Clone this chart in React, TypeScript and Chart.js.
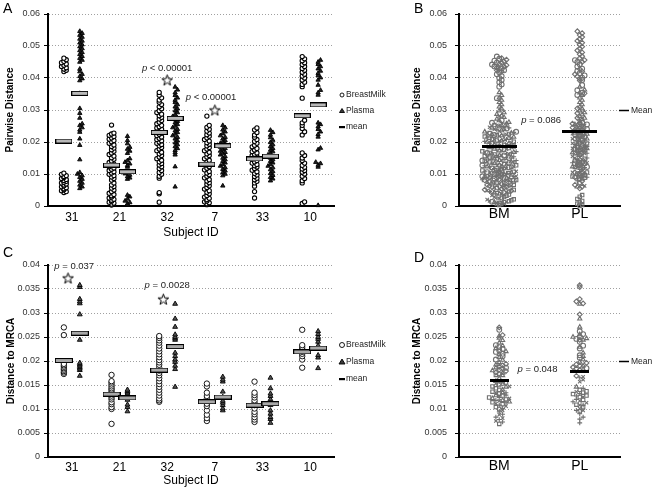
import React, { useEffect, useRef } from "react";
import { Chart, registerables } from "chart.js";

Chart.register(...registerables);

const FONT = "'Liberation Sans', Arial, Helvetica, sans-serif";

// ---------- categories & labels ----------
const subjectIds = ["31", "21", "32", "7", "33", "10"];
const compartmentLabels = ["BM", "PL"];
const legendLabels = ["BreastMilk", "Plasma", "mean"];

// ---------- Panel A: pairwise distance per subject ----------
const pairwiseBM31 = [0.0042, 0.0045, 0.0048, 0.0051, 0.0054, 0.0057, 0.006, 0.0063, 0.0066, 0.0069, 0.0072, 0.0074, 0.0077, 0.008, 0.0083, 0.0086, 0.0089, 0.0092, 0.0095, 0.0099, 0.0103, 0.042, 0.0424, 0.0428, 0.0432, 0.0436, 0.044, 0.0444, 0.0448, 0.0452, 0.0457, 0.0462];
const pairwisePL31 = [0.0055, 0.006, 0.0066, 0.0072, 0.0078, 0.0084, 0.009, 0.0095, 0.01, 0.0105, 0.0145, 0.019, 0.021, 0.0231, 0.0238, 0.0245, 0.0252, 0.0257, 0.0275, 0.029, 0.0305, 0.0352, 0.0392, 0.0398, 0.0405, 0.0412, 0.042, 0.0428, 0.045, 0.0456, 0.0462, 0.0468, 0.0474, 0.048, 0.0486, 0.0492, 0.0498, 0.0504, 0.051, 0.0516, 0.0522, 0.0528, 0.0534, 0.054, 0.0546];
const pairwiseBM21 = [0.0003, 0.0006, 0.0009, 0.0012, 0.0015, 0.0018, 0.0021, 0.0025, 0.0028, 0.0032, 0.0036, 0.004, 0.0045, 0.005, 0.0056, 0.0061, 0.0066, 0.0072, 0.0081, 0.0086, 0.0091, 0.0095, 0.0099, 0.0103, 0.0107, 0.0111, 0.0115, 0.0119, 0.0123, 0.0127, 0.0131, 0.0136, 0.0141, 0.0146, 0.0151, 0.0156, 0.0161, 0.0166, 0.0171, 0.0176, 0.0181, 0.0186, 0.0191, 0.0196, 0.0201, 0.0205, 0.0209, 0.0213, 0.0217, 0.0221, 0.0225, 0.0228, 0.0253];
const pairwisePL21 = [0.0003, 0.0007, 0.0011, 0.0016, 0.0022, 0.0029, 0.0034, 0.0084, 0.0088, 0.0092, 0.0097, 0.0101, 0.0105, 0.0122, 0.0127, 0.0132, 0.0137, 0.0142, 0.0148, 0.0165, 0.0172, 0.0178, 0.0184, 0.0195, 0.0205, 0.0218];
const pairwiseBM32 = [0.0012, 0.0038, 0.0042, 0.0087, 0.0093, 0.0099, 0.0105, 0.0111, 0.0117, 0.0123, 0.0128, 0.0133, 0.0138, 0.0143, 0.0148, 0.0153, 0.0158, 0.0163, 0.0168, 0.0173, 0.0178, 0.0183, 0.0188, 0.0192, 0.0196, 0.02, 0.0204, 0.0208, 0.0212, 0.0216, 0.022, 0.0224, 0.0228, 0.0232, 0.0236, 0.024, 0.0244, 0.0248, 0.0252, 0.0257, 0.0262, 0.0267, 0.0272, 0.0277, 0.0282, 0.0287, 0.0292, 0.0298, 0.0304, 0.031, 0.0317, 0.0324, 0.0331, 0.0338, 0.0346, 0.0355];
const pairwisePL32 = [0.006, 0.0123, 0.016, 0.0167, 0.0174, 0.018, 0.0186, 0.0192, 0.0198, 0.0204, 0.021, 0.0215, 0.022, 0.0225, 0.023, 0.0235, 0.024, 0.0245, 0.025, 0.0255, 0.026, 0.0265, 0.027, 0.0275, 0.028, 0.0286, 0.0292, 0.0298, 0.0304, 0.031, 0.0317, 0.0324, 0.0331, 0.0338, 0.0346, 0.0354, 0.0363, 0.0372];
const pairwiseBM7 = [0.0004, 0.0007, 0.001, 0.0013, 0.0016, 0.002, 0.0024, 0.0028, 0.0033, 0.0038, 0.0043, 0.0048, 0.0053, 0.0058, 0.0063, 0.0068, 0.0073, 0.0078, 0.0083, 0.0088, 0.0093, 0.0098, 0.0103, 0.0108, 0.0113, 0.0118, 0.0123, 0.0128, 0.0133, 0.0138, 0.0143, 0.0148, 0.0153, 0.0158, 0.0163, 0.0168, 0.0173, 0.0178, 0.0183, 0.0188, 0.0193, 0.0198, 0.0203, 0.0208, 0.0213, 0.0218, 0.0223, 0.0228, 0.0234, 0.024, 0.0246, 0.0252, 0.0281];
const pairwisePL7 = [0.0063, 0.0095, 0.01, 0.0105, 0.011, 0.0115, 0.012, 0.0125, 0.013, 0.0135, 0.014, 0.0145, 0.015, 0.0155, 0.016, 0.0164, 0.0168, 0.0172, 0.0176, 0.018, 0.0184, 0.0188, 0.0192, 0.0196, 0.02, 0.0205, 0.021, 0.0215, 0.022, 0.0226, 0.0232, 0.0238, 0.0245, 0.0252];
const pairwiseBM33 = [0.0025, 0.0045, 0.0062, 0.0072, 0.0077, 0.0082, 0.0087, 0.0092, 0.0097, 0.0102, 0.0107, 0.0112, 0.0117, 0.0122, 0.0126, 0.013, 0.0134, 0.0138, 0.0142, 0.0146, 0.015, 0.0154, 0.0158, 0.0162, 0.0166, 0.017, 0.0175, 0.018, 0.0185, 0.019, 0.0196, 0.0202, 0.0208, 0.0215, 0.0222, 0.023, 0.0238, 0.0244];
const pairwisePL33 = [0.0079, 0.0085, 0.009, 0.0096, 0.0102, 0.0108, 0.0114, 0.012, 0.0125, 0.013, 0.0135, 0.014, 0.0145, 0.015, 0.0155, 0.016, 0.0165, 0.017, 0.0175, 0.018, 0.0186, 0.0192, 0.0199, 0.0206, 0.0214, 0.0222, 0.023, 0.0237];
const pairwiseBM10 = [0.0008, 0.0013, 0.0072, 0.0079, 0.0086, 0.0093, 0.01, 0.0106, 0.0111, 0.0116, 0.0121, 0.0127, 0.0134, 0.0142, 0.015, 0.0158, 0.0166, 0.0222, 0.0232, 0.0242, 0.0252, 0.026, 0.0268, 0.0337, 0.0373, 0.038, 0.0387, 0.0394, 0.04, 0.0406, 0.0412, 0.0418, 0.0424, 0.043, 0.0436, 0.0442, 0.0448, 0.0454, 0.046, 0.0467];
const pairwisePL10 = [0.0002, 0.0122, 0.0128, 0.0133, 0.0137, 0.0176, 0.0181, 0.0216, 0.0224, 0.0232, 0.024, 0.0248, 0.0255, 0.026, 0.0347, 0.0354, 0.0362, 0.0378, 0.0394, 0.0401, 0.0408, 0.0415, 0.0422, 0.0429, 0.0436, 0.0443, 0.045, 0.0456];

const pairwiseBM = [pairwiseBM31, pairwiseBM21, pairwiseBM32, pairwiseBM7, pairwiseBM33, pairwiseBM10];
const pairwisePL = [pairwisePL31, pairwisePL21, pairwisePL32, pairwisePL7, pairwisePL33, pairwisePL10];
const pairwiseMeanBM = [0.0203, 0.0128, 0.023, 0.0131, 0.0147, 0.0282];
const pairwiseMeanPL = [0.0352, 0.0107, 0.0274, 0.0188, 0.0156, 0.0316];
const sigStarCatA = [2, 3];
const sigStarValA = [0.0394, 0.03];
const sigTextA = [" < 0.00001", " < 0.00001"];
const sigTextValA = [0.043, 0.0338];

// ---------- Panel C: distance to MRCA per subject ----------
const mrcaBM31 = [0.027, 0.0254, 0.0194, 0.0191, 0.0188, 0.0185, 0.0182, 0.0179, 0.0176, 0.0173];
const mrcaPL31 = [0.0358, 0.0354, 0.0329, 0.0324, 0.032, 0.0297, 0.0244, 0.0196, 0.0193, 0.019, 0.0187, 0.0184, 0.0181, 0.0169];
const mrcaBM21 = [0.0171, 0.0158, 0.0155, 0.0151, 0.0147, 0.0143, 0.014, 0.0136, 0.0132, 0.0128, 0.0124, 0.012, 0.0114, 0.011, 0.0104, 0.01, 0.0069];
const mrcaPL21 = [0.014, 0.0137, 0.0134, 0.0131, 0.0128, 0.0125, 0.0119, 0.0109, 0.0104, 0.0095];
const mrcaBM32 = [0.0252, 0.0248, 0.0243, 0.0238, 0.0232, 0.0226, 0.022, 0.0214, 0.0208, 0.0202, 0.0197, 0.0192, 0.0186, 0.018, 0.0175, 0.017, 0.0164, 0.0158, 0.0152, 0.0146, 0.014, 0.0134, 0.0128, 0.0122, 0.0118, 0.0115];
const mrcaPL32 = [0.0319, 0.0288, 0.0271, 0.0255, 0.025, 0.0247, 0.0244, 0.0229, 0.0217, 0.021, 0.0203, 0.0198, 0.019, 0.0183, 0.0146];
const mrcaBM7 = [0.0153, 0.0147, 0.0134, 0.0127, 0.0122, 0.0117, 0.0111, 0.0106, 0.0097, 0.0088, 0.0081, 0.0075];
const mrcaPL7 = [0.0167, 0.0161, 0.0157, 0.0136, 0.0125, 0.0117, 0.0113, 0.0108, 0.0101, 0.0097];
const mrcaBM33 = [0.0157, 0.0134, 0.0129, 0.0124, 0.0118, 0.0113, 0.0108, 0.0101, 0.0094, 0.0089, 0.0083, 0.0078, 0.0073];
const mrcaPL33 = [0.0165, 0.0143, 0.0132, 0.0127, 0.012, 0.0115, 0.0108, 0.0097, 0.009, 0.0083, 0.0079, 0.0071];
const mrcaBM10 = [0.0265, 0.0233, 0.0229, 0.0225, 0.0222, 0.0219, 0.0215, 0.021, 0.0203, 0.0186];
const mrcaPL10 = [0.0262, 0.0256, 0.025, 0.0246, 0.024, 0.0232, 0.0226, 0.0212, 0.0207, 0.0185];

const mrcaBM = [mrcaBM31, mrcaBM21, mrcaBM32, mrcaBM7, mrcaBM33, mrcaBM10];
const mrcaPL = [mrcaPL31, mrcaPL21, mrcaPL32, mrcaPL7, mrcaPL33, mrcaPL10];
const mrcaMeanBM = [0.0201, 0.0131, 0.0181, 0.0115, 0.0108, 0.0219];
const mrcaMeanPL = [0.0258, 0.0123, 0.023, 0.0125, 0.0111, 0.0227];
const sigStarCatC = [-0.08, 1.92];
const sigStarValC = [0.0373, 0.0329];
const sigTextCatC = [0.05, 2];
const sigTextC = [" = 0.037", " = 0.0028"];
const sigTextValC = [0.0398, 0.0358];

// ---------- Panels B & D: pooled by compartment ----------
const pooledPairwiseMean = [0.0187, 0.0232];
const pooledMrcaMean = [0.0159, 0.0179];
const pooledPairwiseP = " = 0.086";
const pooledPairwisePVal = 0.0268;
const pooledMrcaP = " = 0.048";
const pooledMrcaPVal = 0.0183;
const subjectMarkers = ["rectRot", "rect", "triangle", "crossRot", "cross", "circle"];

// ---------- helpers ----------
const SIDE = 0.167;

function fmt(v: number) {
  if (Math.abs(v) < 1e-9) return "0";
  return String(parseFloat(v.toFixed(4)));
}

function slotOffset(k: number, maxSlots: number) {
  const s = k % maxSlots;
  return s === 0 ? 0 : (s % 2 === 1 ? 1 : -1) * Math.ceil(s / 2);
}

function swarm(vals: number[], center: number, bin: number, dx: number, maxSlots: number) {
  const counts: Record<number, number> = {};
  const sorted = [...vals].sort((a, b) => a - b);
  return sorted.map((v) => {
    const b = Math.round(v / bin);
    const k = counts[b] ?? 0;
    counts[b] = k + 1;
    return { x: center + slotOffset(k, maxSlots) * dx, y: v };
  });
}

function pooledSwarm(groups: number[][], center: number, bin: number, dx: number, maxSlots: number) {
  const items = groups.flatMap((g, gi) => g.map((v) => ({ v, gi })));
  items.sort((a, b) => a.v - b.v);
  const counts: Record<number, number> = {};
  const out: { x: number; y: number }[][] = groups.map(() => []);
  items.forEach(({ v, gi }) => {
    const b = Math.round(v / bin);
    const k = counts[b] ?? 0;
    counts[b] = k + 1;
    out[gi].push({ x: center + slotOffset(k, maxSlots) * dx, y: v });
  });
  return out;
}

function barImage(w: number, h: number, fill: string, stroke: string | null) {
  const c = document.createElement("canvas");
  c.width = w;
  c.height = h;
  const g = c.getContext("2d")!;
  g.fillStyle = fill;
  g.fillRect(0, 0, w, h);
  if (stroke) {
    g.strokeStyle = stroke;
    g.lineWidth = 1;
    g.strokeRect(0.5, 0.5, w - 1, h - 1);
  }
  return c;
}

function starImage(size: number) {
  const c = document.createElement("canvas");
  c.width = size;
  c.height = size;
  const g = c.getContext("2d")!;
  const cx = size / 2;
  const cy = size / 2 + 0.6;
  const R = size / 2 - 0.8;
  const r = R * 0.4;
  g.beginPath();
  for (let k = 0; k < 10; k++) {
    const ang = -Math.PI / 2 + (k * Math.PI) / 5;
    const rad = k % 2 === 0 ? R : r;
    const px = cx + rad * Math.cos(ang);
    const py = cy + rad * Math.sin(ang);
    if (k === 0) g.moveTo(px, py);
    else g.lineTo(px, py);
  }
  g.closePath();
  g.fillStyle = "#fff";
  g.fill();
  g.strokeStyle = "#000";
  g.lineWidth = 1;
  g.stroke();
  return c;
}

// ---------- decoration plugin (letters, p-values, legends) ----------
const decorPlugin = {
  id: "decor",
  afterDraw(chart: any, _args: any, o: any) {
    const ctx = chart.ctx;
    const xs = chart.scales.x;
    const ys = chart.scales.y;
    const area = chart.chartArea;
    ctx.save();
    if (o.letter) {
      ctx.font = `14px ${FONT}`;
      ctx.fillStyle = "#000";
      ctx.textAlign = "left";
      ctx.textBaseline = "middle";
      ctx.fillText(o.letter.text, o.letter.x, o.letter.y);
    }
    (o.notes || []).forEach((n: any) => {
      const px = xs.getPixelForValue(n.cat);
      const py = ys.getPixelForValue(n.val);
      const size = 9.5;
      ctx.font = `italic ${size}px ${FONT}`;
      const w1 = ctx.measureText("p").width;
      ctx.font = `${size}px ${FONT}`;
      const w2 = ctx.measureText(n.rest).width;
      const start = px - (w1 + w2) / 2;
      if (n.bg) {
        ctx.fillStyle = "#fff";
        ctx.fillRect(start - 1, py - 6, w1 + w2 + 2, 12);
      }
      ctx.fillStyle = "#222";
      ctx.textAlign = "left";
      ctx.textBaseline = "middle";
      ctx.font = `italic ${size}px ${FONT}`;
      ctx.fillText("p", start, py);
      ctx.font = `${size}px ${FONT}`;
      ctx.fillText(n.rest, start + w1, py);
    });
    if (o.legend) {
      const L = o.legend;
      L.items.forEach((it: any) => {
        const mx = L.x;
        const my = it.y;
        ctx.lineWidth = 0.9;
        ctx.strokeStyle = "#000";
        if (it.kind === "circle") {
          ctx.fillStyle = "#fff";
          ctx.beginPath();
          ctx.arc(mx, my, L.r, 0, Math.PI * 2);
          ctx.fill();
          ctx.stroke();
        } else if (it.kind === "triangle") {
          ctx.fillStyle = "#3a3a3a";
          ctx.beginPath();
          ctx.moveTo(mx, my - L.r - 0.5);
          ctx.lineTo(mx + L.r + 0.5, my + L.r - 0.5);
          ctx.lineTo(mx - L.r - 0.5, my + L.r - 0.5);
          ctx.closePath();
          ctx.fill();
          ctx.stroke();
        } else {
          ctx.fillStyle = "#000";
          ctx.fillRect(mx - 3, my - 1, 6, 2.2);
        }
        ctx.fillStyle = "#222";
        ctx.font = `8.5px ${FONT}`;
        ctx.textAlign = "left";
        ctx.textBaseline = "middle";
        ctx.fillText(it.label, mx + 4, my);
      });
    }
    if (o.meanKey) {
      const py = Math.round(ys.getPixelForValue(o.meanKey.val)) + 0.5;
      ctx.strokeStyle = "#000";
      ctx.lineWidth = 1.5;
      ctx.beginPath();
      ctx.moveTo(area.right - 1, py);
      ctx.lineTo(area.right + 9, py);
      ctx.stroke();
      ctx.fillStyle = "#222";
      ctx.font = `8.5px ${FONT}`;
      ctx.textAlign = "left";
      ctx.textBaseline = "middle";
      ctx.fillText(o.meanKey.label, area.right + 11, py);
    }
    ctx.restore();
  },
};

function buildOptions(a: any, decor: any) {
  return {
    responsive: false,
    animation: false,
    events: [],
    layout: {
      padding: { left: 0, top: a.padTop, right: a.padRight, bottom: a.padBottom },
      autoPadding: false,
    },
    plugins: { legend: { display: false }, tooltip: { enabled: false }, decor },
    scales: {
      x: {
        type: "linear",
        min: a.xMin,
        max: a.xMax,
        afterBuildTicks: (s: any) => {
          s.ticks = a.xLabels.map((_: string, i: number) => ({ value: i }));
        },
        afterFit: (s: any) => {
          s.height = a.xHeight;
        },
        grid: { display: false, drawTicks: false },
        border: { display: true, color: "#000", width: 2 },
        ticks: {
          padding: a.xTickPad,
          color: "#000",
          maxRotation: 0,
          autoSkip: false,
          font: { family: FONT, size: a.xFontSize },
          callback: (v: number) => a.xLabels[Math.round(v)] ?? "",
        },
        title: a.xTitle
          ? {
              display: true,
              text: a.xTitle,
              color: "#000",
              font: { family: FONT, size: 12 },
              padding: { top: 0, bottom: a.xTitlePad },
            }
          : { display: false },
      },
      y: {
        type: "linear",
        min: 0,
        max: a.yMax,
        afterFit: (s: any) => {
          s.width = a.yWidth;
        },
        ticks: {
          stepSize: a.yStep,
          padding: a.yTickPad,
          color: "#333",
          font: { family: FONT, size: 9 },
          callback: (v: number) => fmt(v),
        },
        grid: { color: "#a0a0a0", lineWidth: 1, drawTicks: true, tickLength: 4, tickColor: "#000" },
        border: { display: true, color: "#000", width: 2, dash: [1, 2] },
        title: {
          display: true,
          text: a.yTitle,
          color: "#000",
          font: { family: FONT, size: 10, weight: "bold" },
          padding: { top: a.yTitlePad, bottom: 0 },
        },
      },
    },
  };
}

// ---------- chart builders ----------
function makeA() {
  const meanImg = barImage(17, 5, "#b8b8b8", "#000");
  const bm = pairwiseBM.flatMap((vals, i) => swarm(vals, i - SIDE, 0.0012, 0.05, 3));
  const pl = pairwisePL.flatMap((vals, i) => swarm(vals, i + SIDE, 0.0012, 0.05, 3));
  return {
    type: "scatter",
    data: {
      datasets: [
        {
          label: legendLabels[2],
          data: [
            ...pairwiseMeanBM.map((m, i) => ({ x: i - SIDE, y: m })),
            ...pairwiseMeanPL.map((m, i) => ({ x: i + SIDE, y: m })),
          ],
          pointStyle: meanImg,
          pointRadius: 3,
          order: 0,
          clip: false,
        },
        {
          label: "significance",
          data: sigStarCatA.map((c, i) => ({ x: c, y: sigStarValA[i] })),
          pointStyle: starImage(13),
          pointRadius: 3,
          order: 0,
          clip: false,
        },
        {
          label: legendLabels[0],
          data: bm,
          pointStyle: "circle",
          pointRadius: 2.1,
          borderWidth: 1.1,
          borderColor: "#000",
          backgroundColor: "#fff",
          order: 2,
          clip: false,
        },
        {
          label: legendLabels[1],
          data: pl,
          pointStyle: "triangle",
          pointRadius: 2.5,
          borderWidth: 0.9,
          borderColor: "#000",
          backgroundColor: "#222",
          order: 1,
          clip: false,
        },
      ],
    },
    options: buildOptions(
      {
        padTop: 14, padRight: 76, padBottom: 2, xHeight: 34, yWidth: 48,
        xMin: -0.5, xMax: 5.5, xLabels: subjectIds, xFontSize: 12, xTickPad: 4,
        xTitle: "Subject ID", xTitlePad: 0,
        yMax: 0.06, yStep: 0.01, yTickPad: 4, yTitle: "Pairwise Distance", yTitlePad: 4,
      },
      {
        letter: { text: "A", x: 3, y: 9 },
        notes: sigStarCatA.map((c, i) => ({ cat: c - (i === 1 ? 0.08 : 0), val: sigTextValA[i], rest: sigTextA[i] })),
        legend: {
          x: 342,
          r: 2,
          items: [
            { label: legendLabels[0], kind: "circle", y: 95 },
            { label: legendLabels[1], kind: "triangle", y: 111 },
            { label: legendLabels[2], kind: "dash", y: 127 },
          ],
        },
      }
    ),
    plugins: [decorPlugin],
  };
}

function makeC() {
  const meanImg = barImage(18, 5, "#a8a8a8", "#000");
  const bm = mrcaBM.flatMap((vals, i) => swarm(vals, i - SIDE, 0.0003, 0.08, 3));
  const pl = mrcaPL.flatMap((vals, i) => swarm(vals, i + SIDE, 0.0003, 0.08, 3));
  return {
    type: "scatter",
    data: {
      datasets: [
        {
          label: legendLabels[2],
          data: [
            ...mrcaMeanBM.map((m, i) => ({ x: i - SIDE, y: m })),
            ...mrcaMeanPL.map((m, i) => ({ x: i + SIDE, y: m })),
          ],
          pointStyle: meanImg,
          pointRadius: 3,
          order: 0,
          clip: false,
        },
        {
          label: "significance",
          data: sigStarCatC.map((c, i) => ({ x: c, y: sigStarValC[i] })),
          pointStyle: starImage(13),
          pointRadius: 3,
          order: 0,
          clip: false,
        },
        {
          label: legendLabels[0],
          data: bm,
          pointStyle: "circle",
          pointRadius: 2.7,
          borderWidth: 0.9,
          borderColor: "#000",
          backgroundColor: "#fff",
          order: 2,
          clip: false,
        },
        {
          label: legendLabels[1],
          data: pl,
          pointStyle: "triangle",
          pointRadius: 2.8,
          borderWidth: 0.9,
          borderColor: "#000",
          backgroundColor: "#555",
          order: 1,
          clip: false,
        },
      ],
    },
    options: buildOptions(
      {
        padTop: 25, padRight: 76, padBottom: 0, xHeight: 33, yWidth: 48,
        xMin: -0.5, xMax: 5.5, xLabels: subjectIds, xFontSize: 12, xTickPad: 3,
        xTitle: "Subject ID", xTitlePad: 2,
        yMax: 0.04, yStep: 0.005, yTickPad: 4, yTitle: "Distance to MRCA", yTitlePad: 5,
      },
      {
        letter: { text: "C", x: 3, y: 13 },
        notes: sigTextCatC.map((c, i) => ({ cat: c, val: sigTextValC[i], rest: sigTextC[i], bg: true })),
        legend: {
          x: 342,
          r: 2.5,
          items: [
            { label: legendLabels[0], kind: "circle", y: 105 },
            { label: legendLabels[1], kind: "triangle", y: 122 },
            { label: legendLabels[2], kind: "dash", y: 139 },
          ],
        },
      }
    ),
    plugins: [decorPlugin],
  };
}

function pooledDatasets(bmGroups: number[][], plGroups: number[][], bin: number, dx: number, slotsBM: number, slotsPL: number) {
  const bm = pooledSwarm(bmGroups, 0, bin, dx, slotsBM);
  const pl = pooledSwarm(plGroups, 1, bin, dx, slotsPL);
  return subjectIds.map((id, i) => ({
    label: id,
    data: [...bm[i], ...pl[i]],
    pointStyle: subjectMarkers[i],
    pointRadius: 2.4,
    borderWidth: 1.1,
    borderColor: "#707070",
    backgroundColor: "rgba(255,255,255,0)",
    order: 1,
    clip: false,
  }));
}

function makeB() {
  const meanImg = barImage(35, 3, "#000", null);
  return {
    type: "scatter",
    data: {
      datasets: [
        {
          label: "Mean",
          data: pooledPairwiseMean.map((m, i) => ({ x: i, y: m })),
          pointStyle: meanImg,
          pointRadius: 3,
          order: 0,
          clip: false,
        },
        ...pooledDatasets(pairwiseBM, pairwisePL, 0.0015, 0.03, 15, 7),
      ],
    },
    options: buildOptions(
      {
        padTop: 14, padRight: 34, padBottom: 6, xHeight: 30, yWidth: 49,
        xMin: -0.5, xMax: 1.5, xLabels: compartmentLabels, xFontSize: 14, xTickPad: 0,
        yMax: 0.06, yStep: 0.01, yTickPad: 8, yTitle: "Pairwise Distance", yTitlePad: 1,
      },
      {
        letter: { text: "B", x: 4, y: 9 },
        notes: [{ cat: 0.52, val: pooledPairwisePVal, rest: pooledPairwiseP }],
        meanKey: { val: 0.03, label: "Mean" },
      }
    ),
    plugins: [decorPlugin],
  };
}

function makeD() {
  const meanImg = barImage(19, 3, "#000", null);
  return {
    type: "scatter",
    data: {
      datasets: [
        {
          label: "Mean",
          data: pooledMrcaMean.map((m, i) => ({ x: i, y: m })),
          pointStyle: meanImg,
          pointRadius: 3,
          order: 0,
          clip: false,
        },
        ...pooledDatasets(mrcaBM, mrcaPL, 0.0008, 0.042, 7, 5),
      ],
    },
    options: buildOptions(
      {
        padTop: 25, padRight: 34, padBottom: 3, xHeight: 30, yWidth: 49,
        xMin: -0.5, xMax: 1.5, xLabels: compartmentLabels, xFontSize: 14, xTickPad: 1,
        yMax: 0.04, yStep: 0.005, yTickPad: 8, yTitle: "Distance to MRCA", yTitlePad: 1,
      },
      {
        letter: { text: "D", x: 4, y: 18 },
        notes: [{ cat: 0.475, val: pooledMrcaPVal, rest: pooledMrcaP }],
        meanKey: { val: 0.02, label: "Mean" },
      }
    ),
    plugins: [decorPlugin],
  };
}

function ChartCanvas(props: { left: number; top: number; width: number; height: number; make: () => any }) {
  const { left, top, width, height, make } = props;
  const ref = useRef<HTMLCanvasElement | null>(null);
  useEffect(() => {
    const chart = new Chart(ref.current as HTMLCanvasElement, make());
    return () => chart.destroy();
  }, [make]);
  return (
    <canvas
      ref={ref}
      width={width}
      height={height}
      style={{ position: "absolute", left, top, width, height, display: "block" }}
    />
  );
}

export default function App() {
  return (
    <div style={{ position: "absolute", left: 0, top: 0, width: 654, height: 490, background: "#fff", overflow: "hidden" }}>
      <ChartCanvas left={0} top={0} width={410} height={242} make={makeA} />
      <ChartCanvas left={410} top={0} width={244} height={242} make={makeB} />
      <ChartCanvas left={0} top={240} width={410} height={250} make={makeC} />
      <ChartCanvas left={410} top={240} width={244} height={250} make={makeD} />
    </div>
  );
}
